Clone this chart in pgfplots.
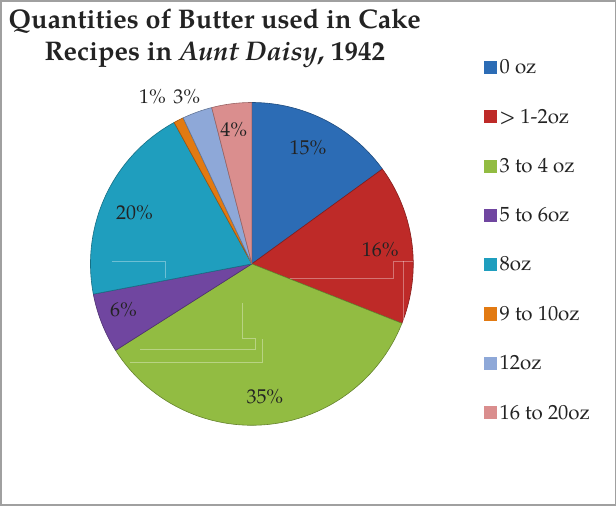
\documentclass[border=0pt]{standalone}
\usepackage{fontspec}
\setmainfont{TeX Gyre Pagella}
\usepackage{pgfplots}
\usepackage{pgfplotstable}
\pgfplotsset{compat=1.18}
\definecolor{slice0}{RGB}{44,108,181}
\definecolor{slice1}{RGB}{190,42,40}
\definecolor{slice2}{RGB}{146,188,66}
\definecolor{slice3}{RGB}{112,70,160}
\definecolor{slice4}{RGB}{31,158,190}
\definecolor{slice5}{RGB}{226,122,18}
\definecolor{slice6}{RGB}{142,168,216}
\definecolor{slice7}{RGB}{218,142,142}
\definecolor{framegray}{RGB}{160,160,160}
\definecolor{txt}{RGB}{35,35,35}
% percentage of recipes per butter quantity (clockwise from 12 o'clock)
\pgfplotstableread{
idx pct
0 15
1 16
2 35
3 6
4 20
5 1
6 3
7 4
}\piedata
\begin{document}
\begin{tikzpicture}
\begin{axis}[
  width=616bp, height=506bp, scale only axis,
  xmin=0, xmax=616, ymin=0, ymax=506, y dir=reverse,
  hide axis, clip=false,
  legend style={at={(axis cs:483,58)}, anchor=north west, draw=none, fill=none,
    font=\fontsize{20.5}{22}\selectfont\color{txt}, row sep=29.6bp,
    legend cell align=left, inner sep=0pt,
    nodes={inner xsep=3bp}},
  legend image code/.code={\fill[#1,draw=none] (0bp,-6.5bp) rectangle (13bp,6.5bp);},
  legend entries={0 oz,{> 1-2oz},3 to 4 oz,5 to 6oz,8oz,9 to 10oz,12oz,16 to 20oz},
]
\path[draw=framegray, line width=1.5bp] (axis cs:1.5,1.5) rectangle (axis cs:614.5,504.5);
\def\cum{0}
\pgfplotsforeachungrouped \i in {0,...,7}{%
  \pgfplotstablegetelem{\i}{pct}\of\piedata
  \let\p\pgfplotsretval
  \pgfmathsetmacro\a{\cum*3.6}%
  \pgfmathsetmacro\b{(\cum+\p)*3.6}%
  \edef\cmd{\noexpand\addplot[draw=slice\i!70!black, line width=0.6bp, line join=round, fill=slice\i, domain=\a:\b, samples=60]
    ({252+161*sin(x)},{264-161*cos(x)}) -- (axis cs:252,264) -- cycle;}%
  \cmd
  \pgfmathsetmacro\cum{\cum+\p}%
}
\begin{scope}[draw=white, opacity=0.35, line width=0.7bp]
\draw (axis cs:112,261) -- (axis cs:166,261) -- (axis cs:166,278);
\draw (axis cs:290,278) -- (axis cs:393,278) -- (axis cs:393,261) -- (axis cs:413,261);
\draw (axis cs:403,261) -- (axis cs:403,322);
\draw (axis cs:243,303) -- (axis cs:243,338) -- (axis cs:255,338) -- (axis cs:255,349) -- (axis cs:140,349);
\draw (axis cs:262,339) -- (axis cs:262,362) -- (axis cs:130,362);
\end{scope}
\begin{scope}[font=\fontsize{20}{22}\selectfont, text=txt]
\node at (axis cs:308,148) {15\%};
\node at (axis cs:380,250) {16\%};
\node at (axis cs:265,396) {35\%};
\node at (axis cs:124,310) {6\%};
\node at (axis cs:135,213) {20\%};
\node at (axis cs:153,97) {1\%};
\node at (axis cs:187,97) {3\%};
\node at (axis cs:234,130) {4\%};
\end{scope}
\node[font=\bfseries\fontsize{27}{32}\selectfont, text=txt, align=center, anchor=north]
  at (axis cs:215,6) {Quantities of Butter used in Cake\\Recipes in \textit{Aunt Daisy}, 1942};
\end{axis}
\end{tikzpicture}
\end{document}
